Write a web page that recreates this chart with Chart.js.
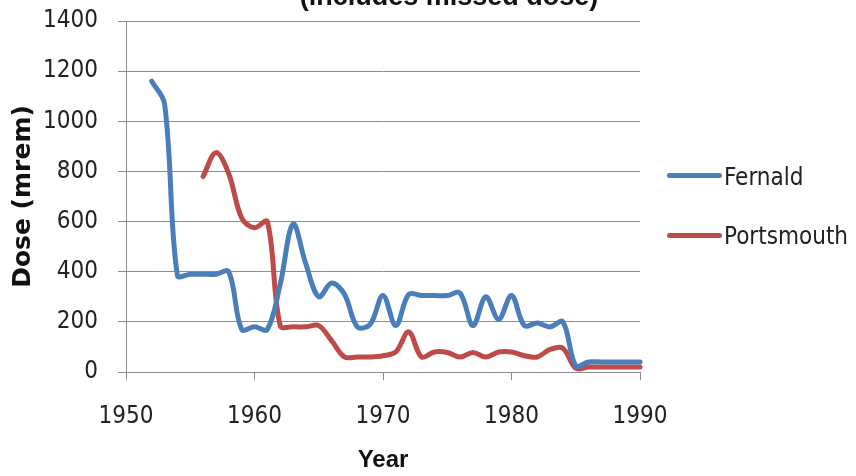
<!DOCTYPE html>
<html>
<head>
<meta charset="utf-8">
<script src="https://cdn.jsdelivr.net/npm/chart.js@4.4.1/dist/chart.umd.min.js"></script>
<style>
    body { margin: 0; background: #fff; }
    #contenedor { position: relative; width: 856px; height: 476px; }
    .ley-linea { position: absolute; left: 667px; width: 55px; height: 5px; border-radius: 3px; }
    .ley-texto { position: absolute; left: 724px; font-family: 'DejaVu Sans Condensed', 'DejaVu Sans', sans-serif; font-stretch: condensed; font-size: 24px; color: #222; line-height: 30px; }
</style>
</head>
<body>
<div id="contenedor">
    <canvas id="canvasDosis" width="856" height="476"></canvas>
    <div class="ley-linea" style="top:173px; background:#4a7ebb;"></div>
    <div class="ley-texto" style="top:162px;">Fernald</div>
    <div class="ley-linea" style="top:233px; background:#be4b48;"></div>
    <div class="ley-texto" style="top:221px;">Portsmouth</div>
</div>
<script>
// Datos
const anosFernald = [1952, 1953, 1954, 1955, 1956, 1957, 1958, 1959, 1960, 1961, 1962, 1963, 1964, 1965, 1966, 1967, 1968, 1969, 1970, 1971,
    1972, 1973, 1974, 1975, 1976, 1977, 1978, 1979, 1980, 1981, 1982, 1983, 1984, 1985, 1986, 1987, 1988, 1989, 1990];
const dosisFernald = [1160, 1070, 385, 390, 390, 390, 400, 170, 180, 170, 350, 590, 430, 300, 355, 310, 180, 190, 305, 185,
    310, 305, 305, 305, 315, 185, 300, 210, 305, 185, 195, 180, 200, 25, 40, 40, 40, 40, 40];

const anosPortsmouth = [1956, 1957, 1958, 1959, 1960, 1961, 1962, 1963, 1964, 1965, 1966, 1967, 1968, 1969, 1970, 1971,
    1972, 1973, 1974, 1975, 1976, 1977, 1978, 1979, 1980, 1981, 1982, 1983, 1984, 1985, 1986, 1987, 1988, 1989, 1990];
const dosisPortsmouth = [780, 875, 790, 615, 575, 600, 185, 180, 180, 185, 125, 60, 60, 60, 65, 80,
    160, 60, 80, 78, 60, 78, 60, 80, 80, 65, 60, 90, 95, 15, 20, 20, 20, 20, 20];

const ticksX = [1950, 1960, 1970, 1980, 1990];
const ticksY = [0, 200, 400, 600, 800, 1000, 1200, 1400];

const tituloParcial = '(includes missed dose)';
const fuenteNarrow = "'DejaVu Sans Condensed', 'DejaVu Sans', sans-serif";
const colorGrid = '#8c8c8c';

// Titulo cortado en la parte superior
const pluginTitulo = {
    id: 'tituloParcial',
    afterDraw(chart) {
        const ctx = chart.ctx;
        ctx.save();
        ctx.font = "bold 27px 'Liberation Sans', Arial, sans-serif";
        ctx.fillStyle = '#111';
        ctx.textAlign = 'center';
        ctx.textBaseline = 'alphabetic';
        ctx.fillText(tituloParcial, 449, 5);
        ctx.restore();
    }
};

function puntos(anos, valores) {
    return anos.map((a, i) => ({ x: a, y: valores[i] }));
}

new Chart(document.getElementById('canvasDosis'), {
    type: 'line',
    data: {
        datasets: [
            {
                label: 'Fernald',
                data: puntos(anosFernald, dosisFernald),
                borderColor: '#4a7ebb',
                borderWidth: 5,
                pointRadius: 0,
                tension: 0.35,
                borderCapStyle: 'round',
                borderJoinStyle: 'round',
                clip: false
            },
            {
                label: 'Portsmouth',
                data: puntos(anosPortsmouth, dosisPortsmouth),
                borderColor: '#be4b48',
                borderWidth: 5,
                pointRadius: 0,
                tension: 0.35,
                borderCapStyle: 'round',
                borderJoinStyle: 'round',
                clip: false
            }
        ]
    },
    options: {
        responsive: false,
        devicePixelRatio: 1,
        animation: false,
        layout: { padding: { top: 21, right: 216, left: 0, bottom: 0 } },
        plugins: { legend: { display: false }, tooltip: { enabled: false } },
        scales: {
            x: {
                type: 'linear',
                min: ticksX[0],
                max: ticksX[ticksX.length - 1],
                afterBuildTicks: (scale) => { scale.ticks = ticksX.map(v => ({ value: v })); },
                afterFit: (scale) => { scale.height = 104; },
                ticks: {
                    padding: 22,
                    color: '#222',
                    font: { family: fuenteNarrow, size: 24 },
                    callback: (v) => String(v)
                },
                grid: { drawOnChartArea: false, drawTicks: true, tickLength: 8, color: colorGrid },
                border: { display: true, color: colorGrid },
                title: {
                    display: true,
                    text: 'Year',
                    color: '#111',
                    font: { family: "'Liberation Sans', Arial, sans-serif", size: 24, weight: 'bold', lineHeight: 1.2 },
                    padding: { top: 0, bottom: 1 }
                }
            },
            y: {
                min: ticksY[0],
                max: ticksY[ticksY.length - 1],
                afterBuildTicks: (scale) => { scale.ticks = ticksY.map(v => ({ value: v })); },
                afterFit: (scale) => {
                    scale.width = 126;
                    // el margen lo pone layout.padding
                    scale.paddingTop = 0;
                    scale.paddingBottom = 0;
                },
                ticks: {
                    padding: 20,
                    color: '#222',
                    font: { family: fuenteNarrow, size: 24 },
                    callback: (v) => String(v)
                },
                grid: { drawTicks: true, tickLength: 8, color: colorGrid },
                border: { display: true, color: colorGrid },
                title: {
                    display: true,
                    text: 'Dose (mrem)',
                    color: '#111',
                    font: { family: "'DejaVu Sans', sans-serif", size: 25, weight: 'bold', lineHeight: 1.2 },
                    padding: { top: 8, bottom: 0 }
                }
            }
        }
    },
    plugins: [pluginTitulo]
});
</script>
</body>
</html>
